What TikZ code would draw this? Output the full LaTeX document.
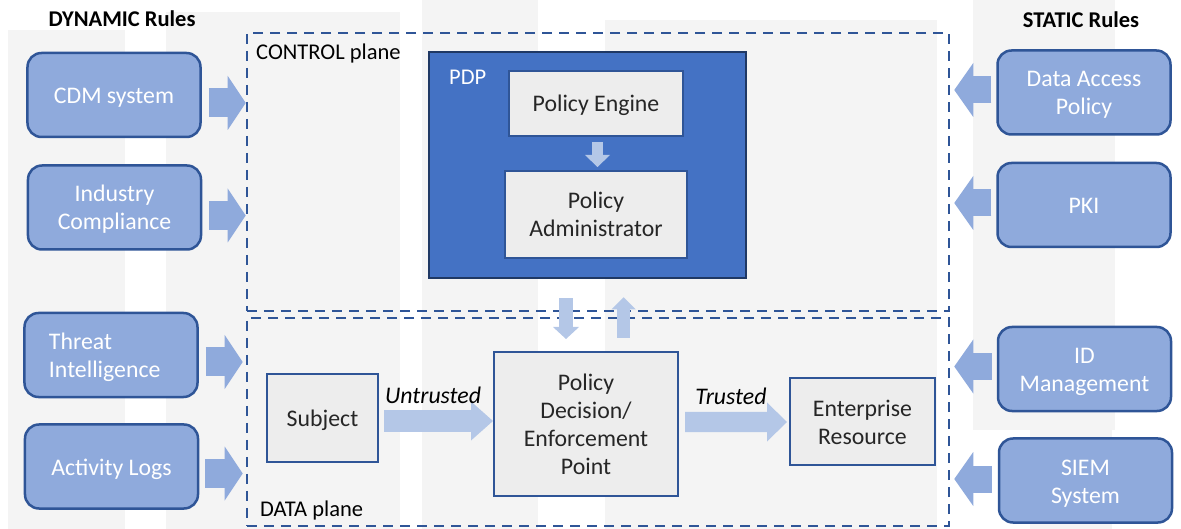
\documentclass[tikz,border=0pt]{standalone}
\usepackage{fontspec}
\setmainfont{Carlito}
\usetikzlibrary{arrows.meta,calc}

\definecolor{ruleFill}{HTML}{8FAADC}
\definecolor{ruleLine}{HTML}{2F5597}
\definecolor{pdpFill}{HTML}{4472C4}
\definecolor{pdpLine}{HTML}{1F3864}
\definecolor{procFill}{HTML}{EDEDED}
\definecolor{flowFill}{HTML}{B4C7E7}
\definecolor{ink}{HTML}{262626}
\definecolor{wmgray}{HTML}{F4F4F4}

% fixed line strut so every text line sits at the same height in its box
\newcommand\ls{\rule[-5bp]{0pt}{27bp}}

\tikzset{
  basefont/.style={font=\fontsize{22.5bp}{28bp}\selectfont},
  boxfont/.style={font=\fontsize{23.8bp}{28bp}\selectfont},
  rulebox/.style={draw=ruleLine, line width=2.5bp, fill=ruleFill,
    rounded corners=14bp, minimum width=173bp, minimum height=84bp,
    text=white, align=center, inner sep=0pt, boxfont},
  procbox/.style={draw=ruleLine, line width=2bp, fill=procFill,
    text=ink, align=center, inner sep=0pt, boxfont},
  plane/.style={draw=ruleLine, line width=2.5bp,
    dash pattern=on 10bp off 7bp, inner sep=0pt},
  label/.style={inner sep=0pt, text=black},
  flowlabel/.style={inner sep=0pt, text=black,
    font=\fontsize{23.8bp}{28bp}\selectfont\itshape},
  sidearrow/.style n args={3}{draw=ruleFill, line width=#1,
    -{Triangle[length=#2, width=#3, line width=0pt]}},
  flowarrow/.style n args={3}{draw=flowFill, line width=#1,
    -{Triangle[length=#2, width=#3, line width=0pt]}},
}

\begin{document}
\begin{tikzpicture}[x=1bp, y=-1bp, basefont]
\useasboundingbox (0,0) rectangle (1181,529);

% faint backdrop bands
\fill[wmgray] (8,30) rectangle (125,529);
\fill[wmgray] (166,12) rectangle (400,529);
\fill[wmgray] (422,0) rectangle (538,529);
\fill[wmgray] (605,20) rectangle (937,529);
\fill[wmgray] (973,0) rectangle (1115,430);
\fill[wmgray] (1030,430) rectangle (1112,529);

% column headings
\node[label, font=\fontsize{22.5bp}{28bp}\selectfont\bfseries] (dyn) at (122,19) {DYNAMIC Rules};
\node[label, font=\fontsize{22.5bp}{28bp}\selectfont\bfseries] (sta) at (1081,20) {STATIC Rules};

% planes
\node[plane, minimum width=702bp, minimum height=278bp] (ctrl) at (598,172) {};
\node[plane, minimum width=702bp, minimum height=208bp] (data) at (598,422) {};
\node[label, anchor=west] (ctrllbl) at (256,54) {CONTROL plane};
\node[label, anchor=west] (datalbl) at (260,511) {DATA plane};

% dynamic rule sources
\node[rulebox] (cdm) at (114,95) {\ls CDM system};
\node[rulebox] (ind) at (114.5,207.5) {\ls Industry\\\ls Compliance};
\node[rulebox, align=left, text width=124bp] (thr) at (111,355) {\ls Threat\\\ls Intelligence};
\node[rulebox] (act) at (111.5,466.5) {\ls Activity Logs};

% static rule sources
\node[rulebox] (dap) at (1084,92.5) {\ls Data Access\\\ls Policy};
\node[rulebox] (pki) at (1084,205) {\ls PKI};
\node[rulebox] (idm) at (1084.5,369) {\ls ID\\\ls Management};
\node[rulebox] (siem) at (1085.5,480.5) {\ls SIEM\\\ls System};

% policy decision point
\node[draw=pdpLine, line width=2.5bp, fill=pdpFill, minimum width=317bp,
      minimum height=226bp, inner sep=0pt] (pdp) at (587.5,165) {};
\node[label, text=white, anchor=west] (pdplbl) at (449,77) {PDP};
\node[procbox, minimum width=174bp, minimum height=65bp] (pe) at (596,103.5) {\ls Policy Engine};
\node[procbox, minimum width=182bp, minimum height=87bp] (pa) at (596,214.5) {\ls Policy\\\ls Administrator};

% data plane components
\node[procbox, minimum width=111bp, minimum height=88bp] (subj) at (322.5,418) {\ls Subject};
\node[procbox, minimum width=184bp, minimum height=144bp] (pep) at (586,424)
  {\ls Policy\\\ls Decision/\\\ls Enforcement\\\ls Point};
\node[procbox, minimum width=145bp, minimum height=87bp] (res) at (862.5,421.5) {\ls Enterprise\\\ls Resource};

% rule feeds into the planes
\draw[sidearrow={29bp}{18bp}{54bp}] ($(cdm.east)+(7,8)$) -- ($(cdm.east -| ctrl.west)+(0,8)$);
\draw[sidearrow={29bp}{18bp}{54bp}] ($(ind.east)+(7,8)$) -- ($(ind.east -| ctrl.west)+(0,8)$);
\draw[sidearrow={29bp}{18bp}{54bp}] ($(thr.east)+(7,7)$) -- ($(thr.east -| data.west)+(-3,7)$);
\draw[sidearrow={29bp}{18bp}{54bp}] ($(act.east)+(6,7)$) -- ($(act.east -| data.west)+(-3,7)$);

\draw[sidearrow={27bp}{19bp}{54bp}] ($(dap.west)+(-5,-2.5)$) -- ($(dap.west -| ctrl.east)+(4,-2.5)$);
\draw[sidearrow={27bp}{19bp}{54bp}] ($(pki.west)+(-5,-2)$) -- ($(pki.west -| ctrl.east)+(4,-2)$);
\draw[sidearrow={27bp}{19bp}{54bp}] ($(idm.west)+(-5,-2.5)$) -- ($(idm.west -| data.east)+(4,-2.5)$);
\draw[sidearrow={27bp}{19bp}{54bp}] ($(siem.west)+(-6,-1.5)$) -- ($(siem.west -| data.east)+(4,-1.5)$);

% flows
\draw[flowarrow={11bp}{12bp}{25bp}] ($(pe.south)+(1.5,5)$) -- ($(pa.north)+(1.5,-3)$);
\draw[flowarrow={14bp}{12bp}{26bp}] ($(pdp.south)+(-21.5,19)$) -- ($(pep.north)+(-20,-12)$);
\draw[flowarrow={13bp}{12bp}{24bp}] ($(pep.north)+(37.5,-13)$) -- ($(pdp.south)+(36,18)$);
\draw[flowarrow={22bp}{22bp}{39bp}] ($(subj.east)+(5,3)$) -- ($(pep.west)+(0,-3)$)
  node[flowlabel, pos=0.45, above=6bp] (untr) {Untrusted};
\draw[flowarrow={20bp}{20bp}{39bp}] ($(pep.east)+(6,-2)$) -- ($(res.west)+(-2,0.5)$)
  node[flowlabel, pos=0.45, above=7bp] (tru) {Trusted};

\end{tikzpicture}
\end{document}
